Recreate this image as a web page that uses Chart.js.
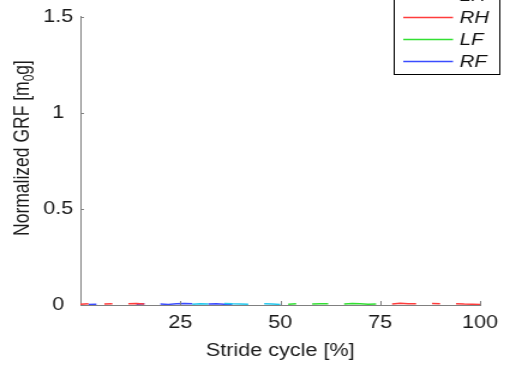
<!DOCTYPE html>
<html>
<head>
<meta charset="utf-8">
<script src="https://cdn.jsdelivr.net/npm/chart.js@4/dist/chart.umd.min.js"></script>
<style>
  html, body { margin: 0; padding: 0; background: #fff; }
  #c { display: block; }
</style>
</head>
<body>
<canvas id="c" width="425" height="368" style="width:510px;height:368px"></canvas>
<script>
// Stride cycle sample points (percent of stride)
const stride = [0,2,4,6,8,10,12,14,16,18,20,22,24,26,28,30,32,34,36,38,40,42,44,46,48,
  50,52,54,56,58,60,62,64,66,68,70,72,74,76,78,80,82,84,86,88,90,92,94,96,98,100];

// Normalized ground reaction force per leg (m0g), null = swing phase
const LH = [null,null,null,null,null,null,null,null,null,null,null,null,null,null,
  0.004,0.007,0.005,null,0.008,0.006,0.005,0.004,null,0.006,0.005,0.003,
  null,null,null,null,null,null,null,null,null,null,null,null,null,null,null,
  null,null,null,null,null,null,null,null,null,null];
const RH = [0.004,0.006,null,0.005,0.007,null,0.006,0.008,0.005,
  null,null,null,null,null,null,null,null,null,null,null,null,null,null,null,null,
  null,null,null,null,null,null,null,null,null,null,null,null,null,null,
  0.005,0.009,0.007,0.006,null,0.008,0.006,null,0.007,0.005,0.004,0.003];
const LF = [null,null,null,null,null,null,null,null,null,null,null,null,null,null,
  null,null,null,null,null,null,null,null,null,null,null,null,
  0.004,0.006,null,0.005,0.007,0.006,null,0.005,0.008,0.006,0.004,0.005,
  null,null,null,null,null,null,null,null,null,null,null,null,null];
const RF = [null,0.003,0.004,null,null,null,null,0.004,0.006,null,0.005,0.003,0.007,0.008,
  0.006,null,0.005,0.007,0.004,0.003,
  null,null,null,null,null,null,null,null,null,null,null,null,null,null,null,
  null,null,null,null,null,null,null,null,null,null,null,null,null,null,null,null];

const xTicks = [25, 50, 75, 100];
const yTicks = [0, 0.5, 1, 1.5];

const legs = [
  { label: 'LH', values: LH, color: '#22c8ee' },
  { label: 'RH', values: RH, color: '#ff3c3c' },
  { label: 'LF', values: LF, color: '#33e033' },
  { label: 'RF', values: RF, color: '#3a4cff' }
];

const FONT = '"Liberation Sans", Arial, Helvetica, sans-serif';

// Small inward tick marks on the left and bottom axes
const innerTicks = {
  id: 'innerTicks',
  afterDraw(chart) {
    const { ctx, scales: { x, y } } = chart;
    ctx.save();
    ctx.strokeStyle = '#808080';
    ctx.lineWidth = 1;
    ctx.beginPath();
    xTicks.forEach(v => {
      const px = Math.round(x.getPixelForValue(v)) + 0.5;
      ctx.moveTo(px, y.bottom);
      ctx.lineTo(px, y.bottom - 4);
    });
    yTicks.forEach(v => {
      const py = Math.round(y.getPixelForValue(v)) + 0.5;
      ctx.moveTo(x.left, py);
      ctx.lineTo(x.left + 3, py);
    });
    ctx.stroke();
    ctx.restore();
  }
};

// Vertical axis title with a subscript in the unit
const yTitle = {
  id: 'yTitle',
  afterDraw(chart) {
    const { ctx } = chart;
    const parts = [
      { t: 'Normalized GRF [m', size: 17.5, dy: 0 },
      { t: '0', size: 12, dy: 4 },
      { t: 'g]', size: 17.5, dy: 0 }
    ];
    ctx.save();
    ctx.fillStyle = '#1a1a1a';
    ctx.textBaseline = 'alphabetic';
    let total = 0;
    parts.forEach(p => { ctx.font = p.size + 'px ' + FONT; p.w = ctx.measureText(p.t).width; total += p.w; });
    ctx.translate(24, 148);
    ctx.rotate(-Math.PI / 2);
    let cx = -total / 2;
    parts.forEach(p => {
      ctx.font = p.size + 'px ' + FONT;
      ctx.fillText(p.t, cx, p.dy);
      cx += p.w;
    });
    ctx.restore();
  }
};

// Boxed legend in the upper right corner
const boxLegend = {
  id: 'boxLegend',
  afterDraw(chart) {
    const { ctx } = chart;
    const left = 328.5, right = 416.5, bottom = 74.5, top = -30;
    ctx.save();
    ctx.fillStyle = '#fff';
    ctx.fillRect(left, top, right - left, bottom - top);
    ctx.strokeStyle = '#000';
    ctx.lineWidth = 1;
    ctx.strokeRect(left, top, right - left, bottom - top);
    ctx.font = 'italic 17px ' + FONT;
    ctx.textBaseline = 'middle';
    chart.data.datasets.forEach((ds, i) => {
      const yy = -5 + i * 22;
      ctx.strokeStyle = ds.borderColor;
      ctx.lineWidth = 1.5;
      ctx.beginPath();
      ctx.moveTo(336, yy + 0.5);
      ctx.lineTo(377.5, yy + 0.5);
      ctx.stroke();
      ctx.fillStyle = '#111';
      ctx.fillText(ds.label, 383, yy + 1);
    });
    ctx.restore();
  }
};

new Chart(document.getElementById('c'), {
  type: 'line',
  data: {
    labels: stride,
    datasets: legs.map(l => ({
      label: l.label,
      data: l.values,
      borderColor: l.color,
      backgroundColor: l.color,
      borderWidth: 1.5,
      pointRadius: 0,
      spanGaps: false,
      tension: 0
    }))
  },
  options: {
    responsive: false,
    devicePixelRatio: 1,
    animation: false,
    layout: { padding: { top: 15, right: 25, left: 0, bottom: 0 } },
    plugins: { legend: { display: false }, tooltip: { enabled: false } },
    scales: {
      x: {
        type: 'linear',
        min: 0, max: 100,
        afterBuildTicks: s => { s.ticks = xTicks.map(v => ({ value: v })); },
        afterFit: s => { s.height = 63; },
        grid: { display: false, drawTicks: false, tickLength: 0 },
        border: { color: '#808080', width: 1 },
        ticks: {
          font: { family: FONT, size: 18 },
          color: '#1a1a1a',
          padding: 7,
          maxRotation: 0,
          autoSkip: false
        },
        title: {
          display: true,
          text: 'Stride cycle [%]',
          font: { family: FONT, size: 18 },
          color: '#1a1a1a',
          padding: { top: 0, bottom: 6 }
        }
      },
      y: {
        min: 0, max: 1.5,
        afterBuildTicks: s => { s.ticks = yTicks.map(v => ({ value: v })); },
        afterFit: s => { s.width = 67; },
        grid: { display: false, drawTicks: false, tickLength: 0 },
        border: { color: '#808080', width: 1 },
        ticks: {
          font: { family: FONT, size: 18 },
          color: '#1a1a1a',
          padding: 6,
          crossAlign: 'center',
          callback: v => String(v)
        }
      }
    }
  },
  plugins: [innerTicks, yTitle, boxLegend]
});
</script>
</body>
</html>
